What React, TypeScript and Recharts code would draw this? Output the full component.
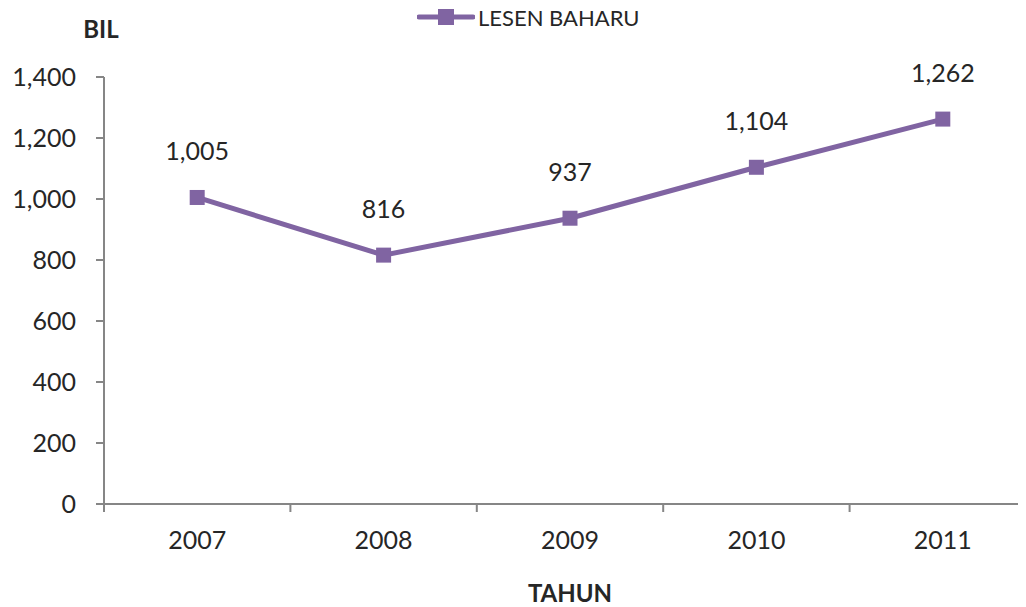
import { LabelList, Legend, Line, LineChart, XAxis, YAxis } from 'recharts';

const years = ['2007', '2008', '2009', '2010', '2011'];
const lesenBaharu = [1005, 816, 937, 1104, 1262];
const yTicks = [0, 200, 400, 600, 800, 1000, 1200, 1400];

const data = years.map((tahun, i) => ({ tahun, lesen: lesenBaharu[i] }));

const PURPLE = '#8064A2';
const AXIS = '#868686';
const TEXT = '#262626';
const FONT = 'Lato, "Open Sans", sans-serif';
const TICK_GAP = 27;

const fmt = (v: number) => v.toLocaleString('en-US');

// penanda segi empat seperti Excel
function SquareDot(props: any) {
  const { cx, cy } = props;
  if (cx == null || cy == null) return null;
  return <rect x={cx - 7.5} y={cy - 7.5} width={15} height={15} fill={PURPLE} />;
}

// label tahun + garis tick di sempadan kategori (gaya Excel)
function YearTick(props: any) {
  const { x, y, payload, index, visibleTicksCount } = props;
  const half = payload.offset ?? 0;
  const axisY = y - TICK_GAP;
  const last = index === visibleTicksCount - 1;
  return (
    <g>
      <line x1={x - half} y1={axisY} x2={x - half} y2={axisY + 8} stroke={AXIS} strokeWidth={2} />
      {last && <line x1={x + half} y1={axisY} x2={x + half} y2={axisY + 8} stroke={AXIS} strokeWidth={2} />}
      <text x={x} y={y} dy="0.71em" textAnchor="middle" fontSize={25} fill={TEXT} fontFamily={FONT}>
        {payload.value}
      </text>
    </g>
  );
}

function LegendBox() {
  return (
    <div style={{ height: 34, display: 'flex', alignItems: 'center', paddingLeft: 417, fontFamily: FONT }}>
      <svg width={58} height={18}>
        <line x1={2} y1={9} x2={56} y2={9} stroke={PURPLE} strokeWidth={5} strokeLinecap="round" />
        <rect x={21} y={1} width={16} height={16} fill={PURPLE} />
      </svg>
      <span style={{ fontSize: 22, color: TEXT, marginLeft: 3 }}>LESEN BAHARU</span>
    </div>
  );
}

function BilLabel(props: any) {
  const { viewBox } = props;
  return (
    <text x={viewBox.x + viewBox.width - 3} y={viewBox.y - 39} textAnchor="middle" fontSize={24} fontWeight={700} fill={TEXT} fontFamily={FONT}>
      BIL
    </text>
  );
}

export default function App() {
  return (
    <div style={{ width: 1026, height: 607, overflow: 'hidden', marginLeft: -8, marginTop: -8, background: '#fff', fontFamily: FONT }}>
      <LineChart width={1050} height={607} data={data} margin={{ top: 43, right: 14, bottom: 0, left: 0 }}>
        <Legend verticalAlign="top" align="left" wrapperStyle={{ top: 0, left: 0 }} content={() => <LegendBox />} />
        <XAxis
          dataKey="tahun"
          scale="band"
          height={103}
          stroke={AXIS}
          strokeWidth={2}
          tickLine={false}
          tickSize={0}
          tickMargin={TICK_GAP}
          tick={<YearTick />}
          interval={0}
          label={{ value: 'TAHUN', position: 'insideBottom', offset: 5, fontSize: 24, fontWeight: 700, fill: TEXT, fontFamily: FONT }}
        />
        <YAxis
          width={104}
          domain={[0, 1400]}
          ticks={yTicks}
          tickFormatter={fmt}
          tickSize={8}
          tickMargin={20}
          stroke={AXIS}
          strokeWidth={2}
          tick={{ fontSize: 25, fill: TEXT, fontFamily: FONT }}
          label={<BilLabel />}
        />
        <Line
          dataKey="lesen"
          name="LESEN BAHARU"
          stroke={PURPLE}
          strokeWidth={5}
          dot={<SquareDot />}
          activeDot={false}
          isAnimationActive={false}
        >
          <LabelList dataKey="lesen" position="top" offset={37} formatter={(v: any) => fmt(Number(v))} fontSize={25} fill={TEXT} fontFamily={FONT} />
        </Line>
      </LineChart>
    </div>
  );
}
